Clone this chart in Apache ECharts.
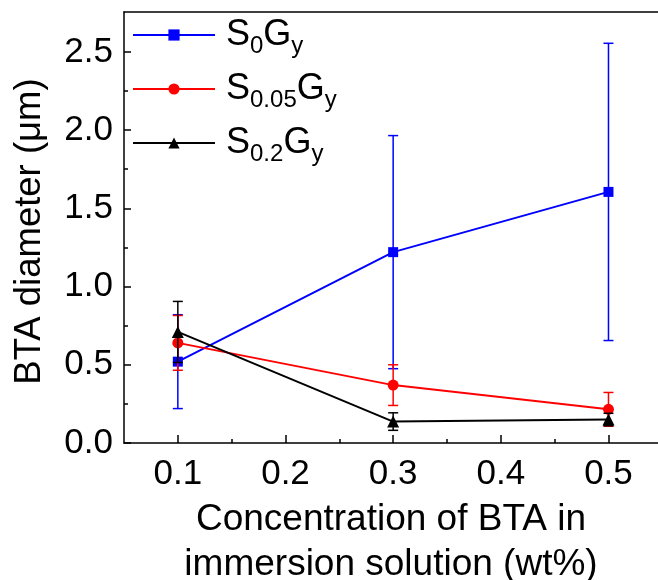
<!DOCTYPE html>
<html>
<head>
<meta charset="utf-8">
<script src="https://cdn.jsdelivr.net/npm/echarts@6/dist/echarts.min.js"></script>
<style>html,body{margin:0;padding:0;background:#fff}#c{width:658px;height:580px}</style>
</head>
<body>
<div id="c"></div>
<script>
// ---- data ----
const xVals = [0.1, 0.3, 0.5];
const s0Mean = [0.52, 1.22, 1.605];
const s0Err = [0.30, 0.745, 0.95];
const s005Mean = [0.64, 0.37, 0.215];
const s005Err = [0.175, 0.13, 0.108];
const s02Mean = [0.71, 0.137, 0.15];
const s02Err = [0.195, 0.056, 0.04];
const xMajorTicks = [0.1, 0.2, 0.3, 0.4, 0.5];
const xMinorTicks = [0.15, 0.25, 0.35, 0.45];
const yMajorTicks = [0, 0.5, 1.0, 1.5, 2.0, 2.5];
const yMinorTicks = [0.25, 0.75, 1.25, 1.75, 2.25];
const seriesNames = ['S0Gy', 'S0.05Gy', 'S0.2Gy'];
const legendLabels = {
  'S0Gy': '{s|S}{b|0}{s|G}{b|y}',
  'S0.05Gy': '{s|S}{b|0.05}{s|G}{b|y}',
  'S0.2Gy': '{s|S}{b|0.2}{s|G}{b|y}'
};

const FONT = "'Liberation Sans', Arial, sans-serif";
const X_MIN = 0.05, X_MAX = 0.546, Y_MIN = 0, Y_MAX = 2.755;

function pairs(means) { return xVals.map((x, i) => [x, means[i]]); }
function errData(means, errs) { return xVals.map((x, i) => [x, means[i] - errs[i], means[i] + errs[i]]); }
function errRender(color) {
  return function (params, api) {
    const x = api.value(0);
    const pLo = api.coord([x, api.value(1)]);
    const pHi = api.coord([x, api.value(2)]);
    const hw = 5;
    const st = { stroke: color, lineWidth: 1.5 };
    return {
      type: 'group',
      children: [
        { type: 'line', shape: { x1: pLo[0], y1: pLo[1], x2: pHi[0], y2: pHi[1] }, style: st },
        { type: 'line', shape: { x1: pLo[0] - hw, y1: pLo[1], x2: pLo[0] + hw, y2: pLo[1] }, style: st },
        { type: 'line', shape: { x1: pHi[0] - hw, y1: pHi[1], x2: pHi[0] + hw, y2: pHi[1] }, style: st }
      ]
    };
  };
}

const colors = ['#0000ff', '#ff0000', '#000000'];
const symbols = ['rect', 'circle', 'triangle'];
const symSizes = [10, 11, 12];
const means = [s0Mean, s005Mean, s02Mean];
const errs = [s0Err, s005Err, s02Err];

const series = [];
for (let i = 0; i < 3; i++) {
  series.push({
    name: seriesNames[i], type: 'line', data: pairs(means[i]),
    symbol: symbols[i], symbolSize: symSizes[i], showAllSymbol: true,
    lineStyle: { color: colors[i], width: 2 },
    itemStyle: { color: colors[i] },
    z: 3 + i * 2, animation: false
  });
  series.push({
    type: 'custom', data: errData(means[i], errs[i]),
    renderItem: errRender(colors[i]),
    encode: { x: 0, y: [1, 2] },
    z: 4 + i * 2, animation: false, silent: true
  });
}

const chart = echarts.init(document.getElementById('c'), null, { renderer: 'canvas' });
chart.setOption({
  animation: false,
  backgroundColor: '#fff',
  textStyle: { fontFamily: FONT },
  grid: { left: 124, top: 12, right: 0, bottom: 137, show: false, containLabel: false, outerBoundsMode: 'none' },
  legend: {
    data: seriesNames, orient: 'vertical', left: 132, top: 17, padding: 0,
    itemWidth: 82, itemHeight: 14, itemGap: 13,
    formatter: n => legendLabels[n],
    textStyle: {
      fontFamily: FONT, color: '#000', padding: [0, 0, 0, 6],
      rich: {
        s: { fontFamily: FONT, fontSize: 36, lineHeight: 36, color: '#000' },
        b: { fontFamily: FONT, fontSize: 24, lineHeight: 12, verticalAlign: 'top', padding: [17, 0, 0, 0], color: '#000' }
      }
    }
  },
  xAxis: [
    {
      type: 'value', min: X_MIN, max: X_MAX, position: 'bottom',
      name: 'Concentration of BTA in\nimmersion solution (wt%)',
      nameLocation: 'middle', nameGap: 52,
      nameTextStyle: { fontFamily: FONT, fontSize: 37, lineHeight: 45, color: '#000' },
      axisLine: { show: true, lineStyle: { color: '#000', width: 1.5 } },
      axisTick: { show: true, inside: true, length: 8, customValues: xMajorTicks, lineStyle: { color: '#000', width: 1.5 } },
      axisLabel: { show: true, customValues: xMajorTicks, margin: 14, fontFamily: FONT, fontSize: 35, color: '#000', formatter: v => v.toFixed(1) },
      splitLine: { show: false }
    },
    {
      type: 'value', min: X_MIN, max: X_MAX, position: 'bottom',
      axisLine: { show: false },
      axisTick: { show: true, inside: true, length: 4, customValues: xMinorTicks, lineStyle: { color: '#000', width: 1.5 } },
      axisLabel: { show: false },
      splitLine: { show: false }
    },
    {
      type: 'value', min: X_MIN, max: X_MAX, position: 'top',
      axisLine: { show: true, lineStyle: { color: '#000', width: 1.5 } },
      axisTick: { show: false },
      axisLabel: { show: false },
      splitLine: { show: false }
    }
  ],
  yAxis: [
    {
      type: 'value', min: Y_MIN, max: Y_MAX, position: 'left',
      name: 'BTA diameter (\u03bcm)', nameLocation: 'middle', nameGap: 76,
      nameTextStyle: { fontFamily: FONT, fontSize: 36.5, color: '#000', padding: [0, 8, 0, 0] },
      axisLine: { show: true, lineStyle: { color: '#000', width: 1.5 } },
      axisTick: { show: true, inside: true, length: 7, customValues: yMajorTicks, lineStyle: { color: '#000', width: 1.5 } },
      axisLabel: { show: true, customValues: yMajorTicks, margin: 11, fontFamily: FONT, fontSize: 35, color: '#000', formatter: v => v.toFixed(1) },
      splitLine: { show: false }
    },
    {
      type: 'value', min: Y_MIN, max: Y_MAX, position: 'left',
      axisLine: { show: false },
      axisTick: { show: true, inside: true, length: 4, customValues: yMinorTicks, lineStyle: { color: '#000', width: 1.5 } },
      axisLabel: { show: false },
      splitLine: { show: false }
    }
  ],
  series: series
});
</script>
</body>
</html>
